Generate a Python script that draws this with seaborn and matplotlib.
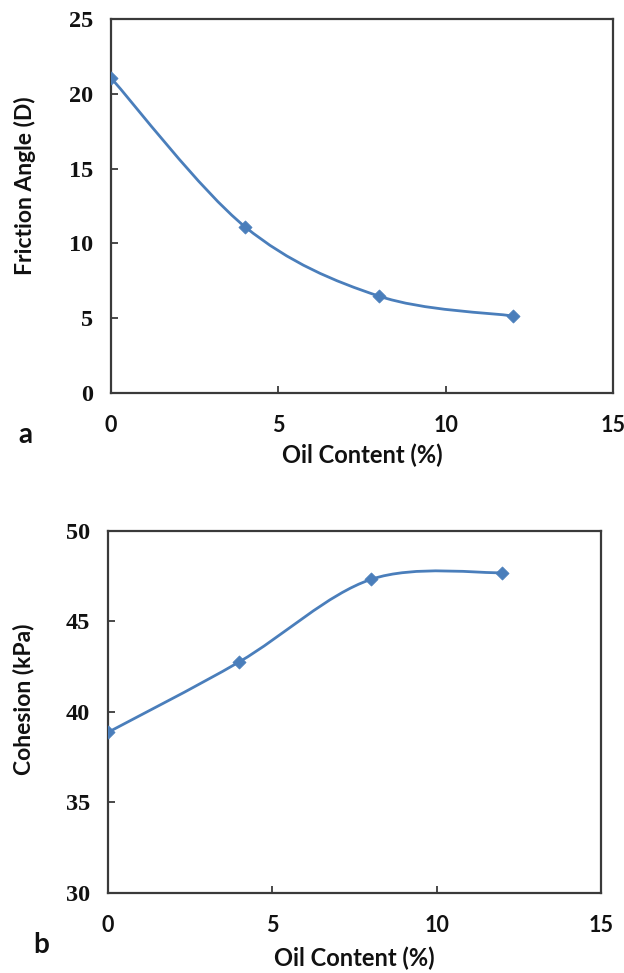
import numpy as np
import pandas as pd
import matplotlib
matplotlib.use("Agg")
import matplotlib.pyplot as plt
from matplotlib.path import Path
from matplotlib.patches import PathPatch
import seaborn as sns

# ---- data ----
oil_content = [0, 4, 8, 12]
friction_angle = [21.06, 11.12, 6.48, 5.15]
cohesion = [38.86, 42.76, 47.31, 47.68]

x_ticks = [0, 5, 10, 15]
fa_ticks = [0, 5, 10, 15, 20, 25]
coh_ticks = [30, 35, 40, 45, 50]

sns.set_theme(style="white")
plt.rcParams['font.family'] = ['Liberation Serif', 'DejaVu Sans']

LINE = "#4A7EBB"
SPINE = "#3a3a3a"
TXT = "#111111"
SANS = ['Lato', 'DejaVu Sans']
SERIF = ['Liberation Serif', 'DejaVu Serif']


def smooth_path(xs, ys):
    """Excel-style smoothed line as cubic Bezier segments through the points."""
    pts = np.column_stack([xs, ys]).astype(float)
    n = len(pts)
    verts = [tuple(pts[0])]
    codes = [Path.MOVETO]
    for i in range(n - 1):
        p0 = pts[i - 1] if i > 0 else pts[i]
        p1 = pts[i]
        p2 = pts[i + 1]
        p3 = pts[i + 2] if i + 2 < n else pts[i + 1]
        c1 = p1 + (p2 - p0) / 6.0
        c2 = p2 - (p3 - p1) / 6.0
        verts += [tuple(c1), tuple(c2), tuple(p2)]
        codes += [Path.CURVE4] * 3
    return Path(verts, codes)


def panel(ax, ys, yticks, ylabel, letter, letter_xy, ylabel_y, xlabel_y):
    df = pd.DataFrame({"x": oil_content, "y": ys})
    ax.add_patch(PathPatch(smooth_path(oil_content, ys), fill=False,
                           edgecolor=LINE, lw=2.0, zorder=2))
    sns.scatterplot(data=df, x="x", y="y", ax=ax, marker="D", s=45,
                    color=LINE, edgecolor=LINE, linewidth=0.5, zorder=3,
                    legend=False)
    ax.set_xlim(0, 15)
    ax.set_ylim(yticks[0], yticks[-1])
    ax.set_xticks(x_ticks)
    ax.set_yticks(yticks)
    ax.set_xticklabels([str(t) for t in x_ticks], fontfamily=SANS,
                       fontweight='bold', fontsize=15.5, color=TXT)
    ax.set_yticklabels([str(t) for t in yticks], fontfamily=SERIF,
                       fontweight='bold', fontsize=17.5, color=TXT)
    ax.tick_params(axis='x', direction='in', length=5, width=1.3,
                   color=SPINE, pad=16, bottom=True)
    ax.tick_params(axis='y', direction='in', length=5, width=1.3,
                   color=SPINE, pad=13, left=True)
    for s in ax.spines.values():
        s.set_visible(True)
        s.set_color(SPINE)
        s.set_linewidth(1.6)
    ax.set_xlabel("Oil Content (%)", fontfamily=SANS, fontweight='bold',
                  fontsize=17, color=TXT)
    ax.set_ylabel(ylabel, fontfamily=SANS, fontweight='bold', fontsize=16.5,
                  color=TXT)
    ax.xaxis.set_label_coords(0.5, xlabel_y)
    ax.yaxis.set_label_coords(-0.15, ylabel_y)
    ax.grid(False)
    ax.figure.text(letter_xy[0], letter_xy[1], letter, fontfamily=SANS,
                   fontweight='bold', fontsize=20, color=TXT,
                   ha='left', va='baseline')


fig = plt.figure(figsize=(6.24, 9.73), dpi=100)
fig.patch.set_facecolor("white")
ax1 = fig.add_axes([111 / 624, 1 - 393 / 973, (613 - 111) / 624, (393 - 19) / 973])
ax2 = fig.add_axes([108 / 624, 1 - 892.7 / 973, (601 - 108) / 624, (892.7 - 530.7) / 973])

panel(ax1, friction_angle, fa_ticks, "Friction Angle (D)", "a",
      (18 / 624, 1 - 443 / 973), 0.555, -0.135)
panel(ax2, cohesion, coh_ticks, "Cohesion (kPa)", "b",
      (33 / 624, 1 - 953 / 973), 0.535, -0.15)

fig.savefig("out.png", dpi=100, facecolor="white")
